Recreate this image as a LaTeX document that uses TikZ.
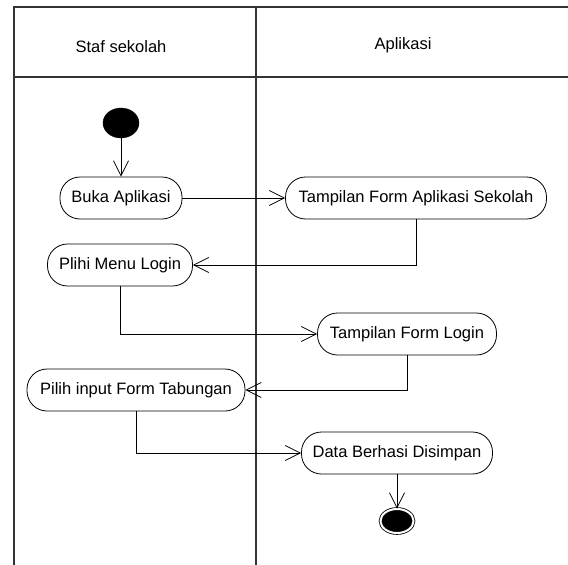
\documentclass[tikz,border=0pt]{standalone}
\usepackage{fontspec}
\setmainfont{Liberation Sans}
\usetikzlibrary{arrows.meta}
\usetikzlibrary{positioning}
\usetikzlibrary{shapes}
\tikzstyle{activity}=[rectangle,rounded corners=20pt,draw,line width=0.8pt,minimum height=42pt,inner sep=0pt,font=\fontsize{16.5}{19}\selectfont]
\tikzstyle{startnode}=[ellipse,fill=black,draw,minimum width=36pt,minimum height=30pt,inner sep=0pt]
\tikzstyle{endnode}=[ellipse,fill=black,draw=black,double=white,double distance=2pt,line width=0.8pt,minimum width=33pt,minimum height=24pt,inner sep=0pt]
\tikzstyle{lane}=[draw,line width=1.2pt,black!80]
\tikzstyle{edge}=[draw,line width=0.8pt,-{Straight Barb[length=15pt,width=15pt]}]
\tikzstyle{title}=[font=\fontsize{16.5}{19}\selectfont]

\begin{document}
\begin{tikzpicture}[x=1pt,y=-1pt]

    \useasboundingbox (0,0) rectangle (568,565);

%Lanes
    \path[lane] (14,565) -- (14,7) -- (568,7);
    \path[lane] (14,77) -- (568,77);
    \path[lane] (256,7) -- (256,565);

    \node[title] (staf) at (121,47) {Staf sekolah};
    \node[title] (apl) at (403,45) {Aplikasi};

%Activities
    \foreach \pos/\name/\w/\label in {{(121,198)/buka/122/Buka Aplikasi}, {(120,265)/plihi/145/Plihi Menu Login}, {(136,390)/pilih/218/Pilih input Form Tabungan}, {(416,198)/tapl/261/Tampilan Form Aplikasi Sekolah}, {(407,334)/tlogin/179/Tampilan Form Login}, {(397,453)/simpan/191/Data Berhasi Disimpan}}
        \node[activity,minimum width=\w pt] (\name) at \pos {\label};

    \node[startnode] (start) at (121,123) {};
    \node[endnode] (finish) at (397,521) {};

% Edges
    \foreach \source/\dest in {start/buka, buka/tapl, simpan/finish}
        \path[edge] (\source) -- (\dest);

    \foreach \source/\dest in {tapl/plihi, plihi/tlogin, tlogin/pilih, pilih/simpan}
        \path[edge] (\source) |- (\dest);

\end{tikzpicture}
\end{document}
